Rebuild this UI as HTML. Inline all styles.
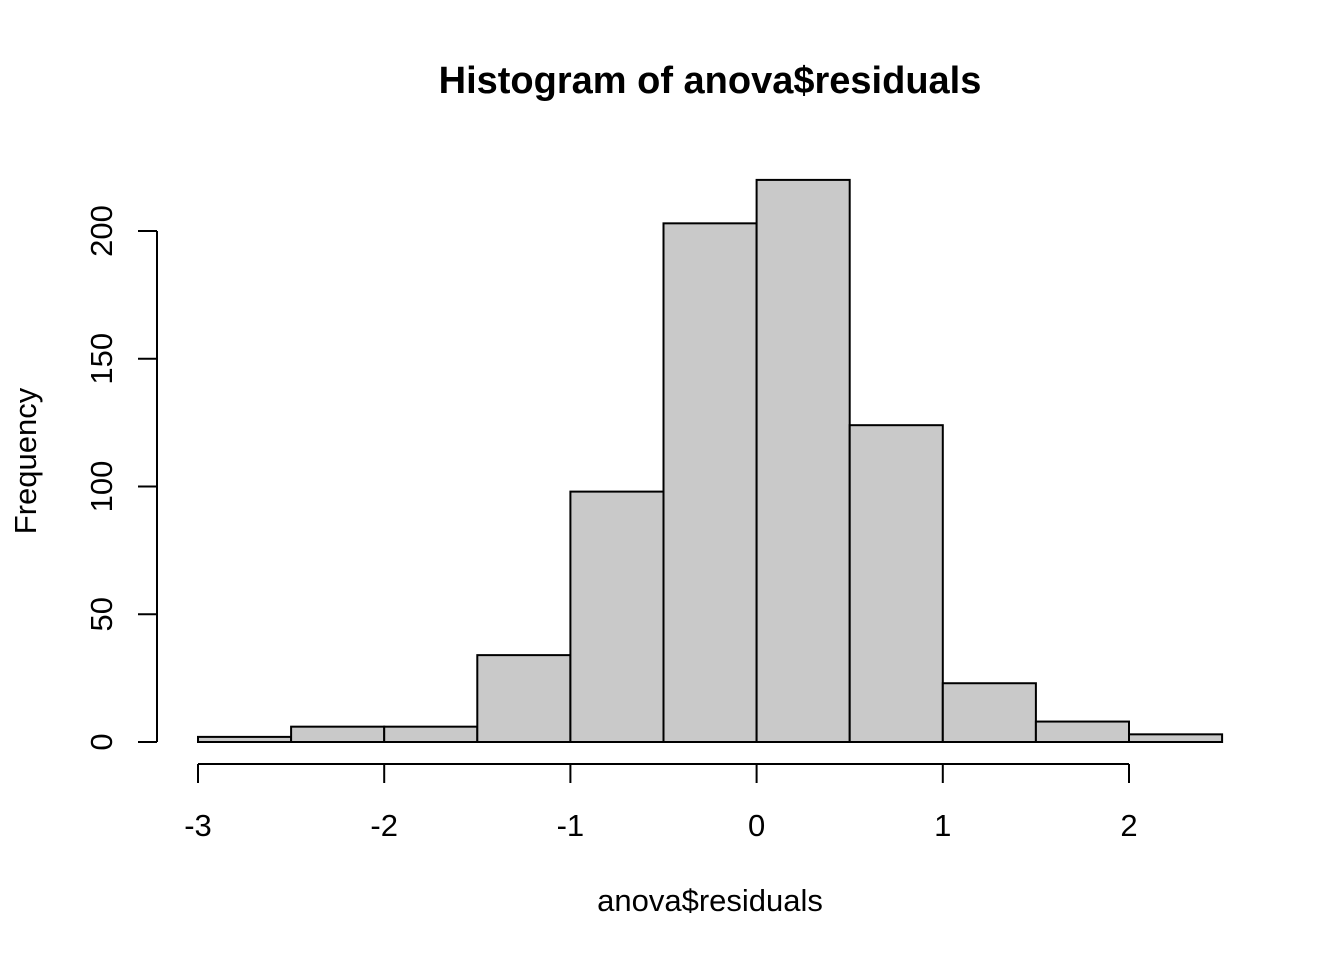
<!DOCTYPE html>
<html><head><meta charset="utf-8"><style>
html,body{margin:0;padding:0;background:#fff;}
svg{display:block;font-family:"Liberation Sans",Arial,sans-serif;}
</style></head><body>
<svg id="chart" width="1344" height="960" viewBox="0 0 1344 960">
<text x="710" y="93" text-anchor="middle" font-size="38" font-weight="bold">Histogram of anova$residuals</text>
<text x="710" y="911" text-anchor="middle" font-size="31">anova$residuals</text>
<text transform="translate(36,461) rotate(-90)" text-anchor="middle" font-size="31">Frequency</text>
<g id="bars"></g>
<g id="xaxis"></g>
<g id="yaxis"></g>
</svg>
<script>
const binStarts = [-3,-2.5,-2,-1.5,-1,-0.5,0,0.5,1,1.5,2];
const binWidth = 0.5;
const counts = [2,6,6,34,98,203,220,124,23,8,3];
const xTicks = [-3,-2,-1,0,1,2];
const yTicks = [0,50,100,150,200];
const NS="http://www.w3.org/2000/svg";
function sx(v){return 198+(v+3)*186.2;}
function sy(v){return 742-v*2.555;}
function mk(t,a,p){const e=document.createElementNS(NS,t);for(const k in a)e.setAttribute(k,a[k]);p.appendChild(e);return e;}
const bars=document.getElementById('bars');
binStarts.forEach((b,i)=>{
 const x0=sx(b),x1=sx(b+binWidth),y=sy(counts[i]);
 const r=mk('rect',{x:x0,y:y,width:x1-x0,height:742-y,fill:'#c9c9c9',stroke:'#000','stroke-width':2},bars);
 
 
});
const xa=document.getElementById('xaxis');
mk('line',{x1:sx(xTicks[0]),x2:sx(xTicks[xTicks.length-1]),y1:764,y2:764,stroke:'#000','stroke-width':2},xa);
xTicks.forEach(t=>{
 mk('line',{x1:sx(t),x2:sx(t),y1:764,y2:783,stroke:'#000','stroke-width':2},xa);
 const tx=mk('text',{x:sx(t),y:836,'text-anchor':'middle','font-size':31},xa);
 tx.textContent=t;
 
 
});
const ya=document.getElementById('yaxis');
mk('line',{x1:157,x2:157,y1:sy(yTicks[0]),y2:sy(yTicks[yTicks.length-1]),stroke:'#000','stroke-width':2},ya);
yTicks.forEach(t=>{
 mk('line',{x1:138,x2:157,y1:sy(t),y2:sy(t),stroke:'#000','stroke-width':2},ya);
 const tx=mk('text',{transform:'translate(112,'+sy(t)+') rotate(-90)','text-anchor':'middle','font-size':31},ya);
 tx.textContent=t;
 
 
});
</script>
</body></html>
